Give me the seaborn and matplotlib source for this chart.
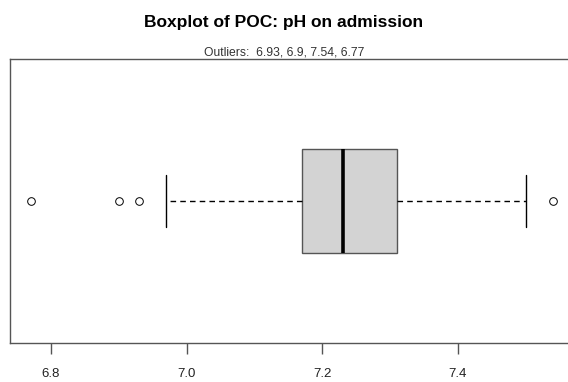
import matplotlib
matplotlib.use("Agg")
import matplotlib.pyplot as plt
import seaborn as sns
import pandas as pd

# Values of POC pH on admission (estimated so the five-number summary matches the picture)
ph_values = [6.77, 6.90, 6.93, 6.97, 7.17, 7.19, 7.21, 7.22, 7.23,
             7.25, 7.27, 7.29, 7.31, 7.35, 7.42, 7.50, 7.54]
outlier_labels = ["6.93", "6.9", "7.54", "6.77"]
tick_values = [6.8, 7.0, 7.2, 7.4]
tick_labels = ["6.8", "7.0", "7.2", "7.4"]

title = "Boxplot of POC: pH on admission"
subtitle = "Outliers:  " + ", ".join(outlier_labels)

sns.set_style("white")
plt.rcParams["font.family"] = ["Liberation Sans", "DejaVu Sans"]

W, H = 568, 382
fig = plt.figure(figsize=(W / 100, H / 100), dpi=100)
left_px, right_px, top_px, bot_px = 10, 569, 59, 343
ax = fig.add_axes([left_px / W, (H - bot_px) / H,
                   (right_px - left_px) / W, (bot_px - top_px) / H])

df = pd.DataFrame({"pH": ph_values})
sns.boxplot(data=df, x="pH", orient="h", width=0.8, ax=ax,
            color="#D3D3D3", linecolor="black", linewidth=1, fill=True,
            boxprops=dict(edgecolor="#555555", linewidth=1, facecolor="#D3D3D3"),
            whiskerprops=dict(linestyle=(0, (4, 3)), color="black", linewidth=1),
            capprops=dict(color="black", linewidth=1),
            medianprops=dict(color="black", linewidth=2.6, solid_capstyle="butt"),
            flierprops=dict(marker="o", markersize=5.5, markerfacecolor="white",
                            markeredgecolor="black", markeredgewidth=0.7))

px_per_unit = 678.0
x0 = 6.8 - (51 - left_px) / px_per_unit
ax.set_xlim(x0, x0 + (right_px - left_px) / px_per_unit)
ax.set_ylim(1.092, -1.092)

ax.set_xticks(tick_values)
ax.set_xticklabels(tick_labels, fontsize=9.5, color="#222222")
ax.set_yticks([])
ax.set_xlabel("")
ax.set_ylabel("")
ax.tick_params(axis="x", bottom=True, length=8, width=1, color="#555555", pad=10)
for s in ["left", "top", "bottom", "right"]:
    ax.spines[s].set_visible(True)
    ax.spines[s].set_color("#555555")
    ax.spines[s].set_linewidth(1)

fig.text(0.5, 1 - 22 / H, title, ha="center", va="center",
         fontsize=12.5, fontweight="bold", color="black")
fig.text(0.5, 1 - 52.5 / H, subtitle, ha="center", va="center",
         fontsize=8.7, color="#333333")

fig.savefig("out.png", dpi=100)
